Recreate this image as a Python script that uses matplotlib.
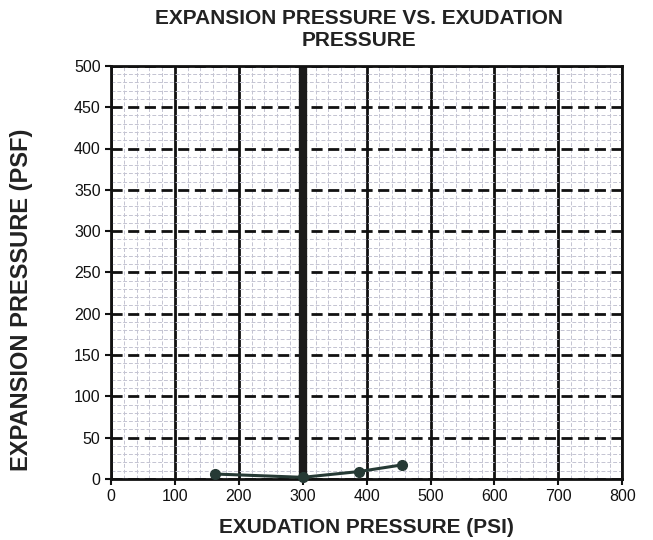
import matplotlib.pyplot as plt
from matplotlib.ticker import MultipleLocator

exudation_psi = [163, 300, 388, 455]
expansion_psf = [6, 2, 9, 17]
x_ticks = [0, 100, 200, 300, 400, 500, 600, 700, 800]
y_ticks = [0, 50, 100, 150, 200, 250, 300, 350, 400, 450, 500]

plt.rcParams['font.family'] = ['Liberation Sans', 'DejaVu Sans']

fig = plt.figure(figsize=(6.53, 5.40), dpi=100)
ax = fig.add_axes([0.170, 0.113, 0.783, 0.765])

ax.set_xlim(0, 800)
ax.set_ylim(0, 500)
ax.set_xticks(x_ticks)
ax.set_yticks(y_ticks)
ax.xaxis.set_minor_locator(MultipleLocator(20))
ax.yaxis.set_minor_locator(MultipleLocator(10))

# graph paper look
ax.grid(which='minor', color='#c4c4d2', linestyle=(0, (4, 2)), linewidth=0.7)
ax.grid(which='major', axis='x', color='#111111', linestyle='-', linewidth=2.0)
ax.grid(which='major', axis='y', color='#111111', linestyle=(0, (4, 2)), linewidth=2.0)
ax.axvline(300, color='#1a1a1a', linewidth=6, zorder=2)
ax.set_axisbelow(True)

ax.plot(exudation_psi, expansion_psf, color='#263a35', linewidth=2.2,
        marker='o', markersize=7, zorder=4, clip_on=False)

for s in ax.spines.values():
    s.set_linewidth(2)
    s.set_color('#111111')

ax.tick_params(which='major', length=4, width=1.5, labelsize=11.5, colors='#111111')
ax.tick_params(which='minor', length=0)

ax.set_title("EXPANSION PRESSURE VS. EXUDATION\nPRESSURE", fontsize=15,
             fontweight='bold', color='#222222', pad=14, linespacing=1.2,
             x=0.485)
ax.set_xlabel("EXUDATION PRESSURE (PSI)", fontsize=15, fontweight='bold',
              color='#222222', labelpad=10)
ax.set_ylabel("EXPANSION PRESSURE (PSF)", fontsize=17, fontweight='bold',
              color='#222222')
ax.yaxis.set_label_coords(-0.152, 0.433)

fig.savefig('out.png', dpi=100)
